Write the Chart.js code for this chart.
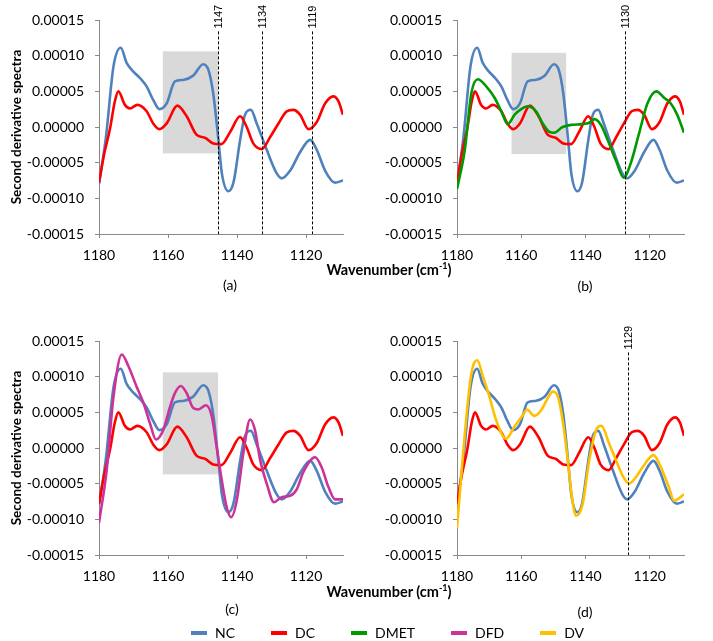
<!DOCTYPE html>
<html>
<head>
<meta charset="utf-8">
<script src="https://cdn.jsdelivr.net/npm/chart.js@4/dist/chart.umd.min.js"></script>
<style>
  body { margin: 0; background: #fff; font-family: Lato, "Open Sans", sans-serif; }
  #wrap { position: relative; width: 713px; height: 641px; overflow: hidden; }
  canvas { position: absolute; }
  .txt { position: absolute; color: #000; font-size: 14px; white-space: nowrap; transform: translate(-50%, -50%); }
  .xtitle { font-weight: bold; font-size: 14.5px; }
  #legend { position: absolute; left: 191px; top: 624px; display: flex; gap: 36px; font-size: 14px; }
  #legend span.item { display: flex; align-items: center; }
  #legend i { display: inline-block; width: 16px; height: 4px; margin-right: 8px; }
</style>
</head>
<body>
<div id="wrap">
  <canvas id="pa" width="356" height="300" style="left:0;top:0"></canvas>
  <canvas id="pb" width="357" height="300" style="left:356px;top:0"></canvas>
  <canvas id="pc" width="356" height="300" style="left:0;top:321px"></canvas>
  <canvas id="pd" width="357" height="300" style="left:356px;top:321px"></canvas>

  <div class="txt xtitle" style="left:389px;top:269px">Wavenumber (cm<sup style="font-size:9px">-1</sup>)</div>
  <div class="txt xtitle" style="left:389px;top:591px">Wavenumber (cm<sup style="font-size:9px">-1</sup>)</div>
  <div class="txt" style="left:230px;top:284px">(a)</div>
  <div class="txt" style="left:585px;top:285px">(b)</div>
  <div class="txt" style="left:232px;top:608px">(c)</div>
  <div class="txt" style="left:585px;top:611px">(d)</div>
  <div id="legend"></div>
</div>

<script>
// wavenumber / second-derivative readings per series
const ncWn = [1180, 1178, 1175.8, 1173.7, 1172, 1170.1, 1168, 1166.2, 1164.3, 1162.5, 1160.4, 1158, 1155.6, 1152.7, 1149.8, 1148.3, 1146.9, 1145.4, 1144.4, 1142.5, 1141, 1139.1, 1137.7, 1136, 1134.3, 1131.4, 1128.5, 1127, 1124.6, 1121.7, 1118.8, 1116.9, 1114.5, 1111.6, 1109.3];
const ncVal = [-8.0e-5, -1.5e-5, 8.5e-5, 11.1e-5, 9.0e-5, 7.8e-5, 6.8e-5, 5.7e-5, 3.8e-5, 2.5e-5, 3.3e-5, 6.4e-5, 6.6e-5, 7.2e-5, 8.8e-5, 8.0e-5, 4.7e-5, -1.8e-5, -6.5e-5, -9.0e-5, -7.7e-5, -1.8e-5, 1.7e-5, 2.4e-5, 0.5e-5, -3.2e-5, -6.5e-5, -7.2e-5, -6.1e-5, -3.5e-5, -1.8e-5, -3.2e-5, -6.1e-5, -7.8e-5, -7.5e-5];

const dcWn = [1180, 1178.5, 1176.8, 1175.4, 1174.4, 1172.5, 1171, 1168.9, 1166.2, 1164.3, 1162.5, 1160.4, 1157.3, 1154.6, 1151.7, 1149.3, 1146.9, 1144.5, 1142, 1139.1, 1137.2, 1135.3, 1132.8, 1130.4, 1128, 1125.6, 1123.7, 1121.7, 1119.3, 1116.9, 1114.5, 1112.1, 1110.6, 1109.3];
const dcVal = [-7.8e-5, -3.8e-5, -0.2e-5, 3.6e-5, 5.0e-5, 3.1e-5, 2.6e-5, 3.1e-5, 2.2e-5, 0.5e-5, -0.3e-5, 0.5e-5, 3.0e-5, 1.5e-5, -1.1e-5, -1.5e-5, -2.3e-5, -2.4e-5, -0.7e-5, 1.5e-5, 0.0, -2.3e-5, -3.1e-5, -1.4e-5, 0.5e-5, 2.2e-5, 2.4e-5, 1.7e-5, -0.3e-5, 0.7e-5, 3.3e-5, 4.3e-5, 3.6e-5, 1.7e-5];

const dmetWn = [1180, 1177.6, 1175.5, 1173.5, 1170.9, 1168.3, 1166.2, 1164.2, 1162.1, 1160, 1158, 1155.4, 1153.3, 1151.2, 1149.7, 1147.1, 1144.5, 1140.9, 1138.8, 1137.2, 1135.2, 1133.1, 1130.5, 1128.1, 1125.9, 1123.3, 1120.7, 1117.9, 1115.5, 1113.4, 1111.4, 1109.3];
const dmetVal = [-8.7e-5, -3.3e-5, 4.8e-5, 6.7e-5, 5.7e-5, 4.1e-5, 2.2e-5, 0.4e-5, 1.7e-5, 2.5e-5, 2.9e-5, 2.2e-5, 0.5e-5, -0.7e-5, -0.8e-5, 0.0, 0.3e-5, 0.4e-5, 0.6e-5, 1.1e-5, 0.3e-5, -1.8e-5, -4.7e-5, -7.1e-5, -5.1e-5, -0.9e-5, 3.3e-5, 5.0e-5, 4.1e-5, 3.3e-5, 1.7e-5, -0.8e-5];

const dfdWn = [1180, 1177.8, 1175.8, 1173.4, 1171.5, 1169.1, 1167.1, 1165.2, 1163.5, 1161.4, 1159.4, 1158, 1156.3, 1154.6, 1152.7, 1151.2, 1149, 1147.3, 1145.9, 1144.4, 1143, 1141.7, 1140.1, 1138.2, 1136.2, 1134.8, 1133.3, 1131.4, 1129.3, 1127.1, 1124.6, 1122.7, 1120.8, 1117.4, 1115.5, 1113.5, 1111.6, 1109.3];
const dfdVal = [-10.5e-5, -3.2e-5, 7.2e-5, 13.1e-5, 11.5e-5, 8.6e-5, 6.3e-5, 3.4e-5, 1.2e-5, 2.5e-5, 5.8e-5, 7.7e-5, 8.7e-5, 7.7e-5, 5.6e-5, 5.4e-5, 6.0e-5, 4.4e-5, 0.1e-5, -4.6e-5, -8.3e-5, -9.7e-5, -7.4e-5, -0.8e-5, 4.0e-5, 2.5e-5, -1.7e-5, -5.0e-5, -7.6e-5, -6.9e-5, -6.7e-5, -5.8e-5, -3.4e-5, -1.3e-5, -2.7e-5, -5.5e-5, -7.2e-5, -7.2e-5];

const dvWn = [1180, 1178.1, 1176.1, 1175, 1173.7, 1171.9, 1169.9, 1167.8, 1164.7, 1162.1, 1159.5, 1158.2, 1155.9, 1153.8, 1151.7, 1150.2, 1148.6, 1147.1, 1145.5, 1144.2, 1142.9, 1140.9, 1138.8, 1136.7, 1135, 1132.6, 1130.5, 1128.4, 1126.4, 1124.3, 1122.2, 1118.8, 1116.5, 1114, 1112.4, 1109.3];
const dvVal = [-11.2e-5, -0.8e-5, 8.6e-5, 11.5e-5, 12.3e-5, 10.0e-5, 7.2e-5, 3.9e-5, 1.3e-5, 3.0e-5, 4.6e-5, 5.4e-5, 4.5e-5, 5.3e-5, 7.0e-5, 7.9e-5, 7.2e-5, 3.9e-5, -1.7e-5, -6.9e-5, -9.5e-5, -7.9e-5, -1.7e-5, 2.5e-5, 3.1e-5, 0.6e-5, -1.7e-5, -3.9e-5, -5.0e-5, -4.1e-5, -2.7e-5, -1.0e-5, -2.7e-5, -5.5e-5, -7.4e-5, -6.5e-5];

const seriesNames = ['NC', 'DC', 'DMET', 'DFD', 'DV'];
const seriesColors = ['#4F81BD', '#FF0000', '#009A00', '#CC3399', '#FFC000'];
const yTicks = [-0.00015, -0.0001, -0.00005, 0, 0.00005, 0.0001, 0.00015];
const xRange = [1109.3, 1180];

// marked bands and peaks
const markersA = [[1145.5, '1147'], [1132.8, '1134'], [1118.3, '1119']];
const markersB = [[1127.8, '1130']];
const markersD = [[1126.6, '1129']];
const shadeAC = [1161.5, 1145.5, -3.7e-5, 10.6e-5];
const shadeB = [1163, 1146, -3.8e-5, 10.4e-5];
const markerTop = 0.000134;

const seriesData = {
  NC: [ncWn, ncVal], DC: [dcWn, dcVal], DMET: [dmetWn, dmetVal], DFD: [dfdWn, dfdVal], DV: [dvWn, dvVal]
};

const decor = {
  id: 'decor',
  beforeDatasetsDraw(chart, args, opts) {
    const s = opts.shade;
    if (!s) return;
    const { ctx, scales: { x, y } } = chart;
    const x0 = x.getPixelForValue(s[0]), x1 = x.getPixelForValue(s[1]);
    const y0 = y.getPixelForValue(s[3]), y1 = y.getPixelForValue(s[2]);
    ctx.save();
    ctx.fillStyle = '#D9D9D9';
    ctx.fillRect(x0, y0, x1 - x0, y1 - y0);
    ctx.restore();
  },
  afterDatasetsDraw(chart, args, opts) {
    const { ctx, scales: { x, y } } = chart;
    (opts.markers || []).forEach(m => {
      const px = Math.round(x.getPixelForValue(m[0])) + 0.5;
      const top = y.getPixelForValue(markerTop);
      ctx.save();
      ctx.strokeStyle = '#000';
      ctx.lineWidth = 1;
      ctx.setLineDash([3, 2]);
      ctx.beginPath();
      ctx.moveTo(px, top);
      ctx.lineTo(px, chart.chartArea.bottom);
      ctx.stroke();
      ctx.setLineDash([]);
      ctx.translate(px, top - 3);
      ctx.rotate(-Math.PI / 2);
      ctx.font = '11px "Liberation Sans", Arial, sans-serif';
      ctx.fillStyle = '#000';
      ctx.textAlign = 'left';
      ctx.textBaseline = 'middle';
      ctx.fillText(m[1], 0, 0);
      ctx.restore();
    });
  }
};

function makePanel(id, names, opts) {
  const datasets = names.map((n, i) => {
    const [wn, val] = seriesData[n];
    const c = seriesColors[seriesNames.indexOf(n)];
    return {
      label: n,
      data: wn.map((w, k) => ({ x: w, y: val[k] })),
      borderColor: c,
      backgroundColor: c,
      borderWidth: 2.6,
      pointRadius: 0,
      cubicInterpolationMode: 'monotone',
      order: names.length - i
    };
  });
  new Chart(document.getElementById(id), {
    type: 'line',
    data: { datasets },
    options: {
      responsive: false,
      animation: false,
      layout: { padding: { top: 20, right: opts.right, bottom: 0, left: 0 } },
      plugins: {
        legend: { display: false },
        tooltip: { enabled: false },
        decor: { shade: opts.shade, markers: opts.markers }
      },
      scales: {
        x: {
          type: 'linear',
          reverse: true,
          min: xRange[0],
          max: xRange[1],
          afterFit: s => { s.height = 66; },
          border: { color: '#898989' },
          grid: { drawOnChartArea: false, tickLength: 4, color: '#898989' },
          ticks: {
            stepSize: 20, includeBounds: false, padding: 9, color: '#000',
            font: { family: 'Lato', size: 14 },
            callback: v => String(v)
          }
        },
        y: {
          min: yTicks[0],
          max: yTicks[yTicks.length - 1],
          afterFit: s => { s.width = opts.yWidth; },
          afterBuildTicks: s => { s.ticks = yTicks.map(v => ({ value: v })); },
          border: { color: '#898989' },
          grid: { drawOnChartArea: false, tickLength: 4, color: '#898989' },
          ticks: {
            padding: 11, color: '#000',
            font: { family: 'Lato', size: 14 },
            callback: v => v.toFixed(5)
          },
          title: {
            display: opts.yTitle,
            text: 'Second derivative spectra',
            color: '#000',
            padding: { top: 9, bottom: 0 },
            font: { family: 'Lato', size: 13.5, weight: 'bold' }
          }
        }
      }
    },
    plugins: [decor]
  });
}

makePanel('pa', ['NC', 'DC'], { right: 13, yWidth: 99, yTitle: true, shade: shadeAC, markers: markersA });
makePanel('pb', ['NC', 'DC', 'DMET'], { right: 29, yWidth: 101, yTitle: false, shade: shadeB, markers: markersB });
makePanel('pc', ['NC', 'DC', 'DFD'], { right: 13, yWidth: 99, yTitle: true, shade: shadeAC, markers: [] });
makePanel('pd', ['NC', 'DC', 'DV'], { right: 29, yWidth: 101, yTitle: false, shade: null, markers: markersD });

const legend = document.getElementById('legend');
seriesNames.forEach((n, i) => {
  const item = document.createElement('span');
  item.className = 'item';
  item.innerHTML = '<i style="background:' + seriesColors[i] + '"></i>' + n;
  legend.appendChild(item);
});
</script>
</body>
</html>
